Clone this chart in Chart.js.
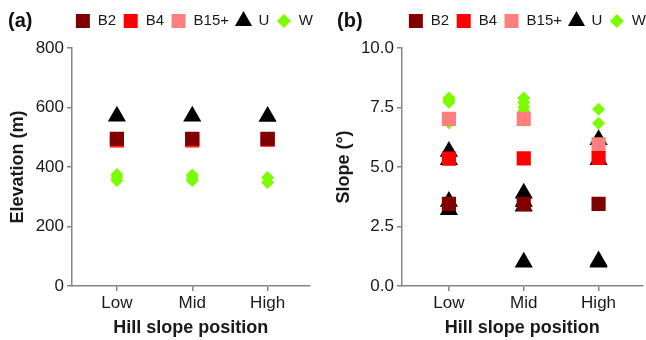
<!DOCTYPE html>
<html>
<head>
<meta charset="utf-8">
<script src="https://cdn.jsdelivr.net/npm/chart.js@4/dist/chart.umd.min.js"></script>
<style>
  html, body { margin: 0; padding: 0; background: #fff; overflow: hidden; }
  #wrap { position: relative; width: 646px; height: 340px; overflow: hidden; }
  canvas { position: absolute; top: 0; }
  #chartA { left: 0; }
  #chartB { left: 323px; }
  .panel { position: absolute; top: 9px; line-height: 20px; font: bold 20px "Liberation Sans", Arial, sans-serif; color: #111; }
</style>
</head>
<body>
<div id="wrap">
  <canvas id="chartA" width="320" height="340"></canvas>
  <canvas id="chartB" width="330" height="340"></canvas>
  <div class="panel" style="left:8px">(a)</div>
  <div class="panel" style="left:337px">(b)</div>
</div>
<script>
// Hill slope positions on the x axis
const categories = ['Low', 'Mid', 'High'];

// Series (legend order) and how they are drawn
const seriesNames = ['B2', 'B4', 'B15+', 'U', 'W'];
const seriesColors = ['#800000', '#ff0000', '#ff7f7f', '#000000', '#7cfc00'];
const seriesStyles = ['rect', 'rect', 'rect', 'triangle', 'rectRot'];
const seriesRadius = [10, 10, 10, 10.5, 6.5];

// (a) Elevation (m): one list of values per hill slope position
const elevB2 = [[495], [495], [495]];
const elevB4 = [[492], [492], [493]];
const elevB15 = [[488], [488], [491]];
const elevU = [[571], [571], [570]];
const elevW = [[375, 365, 355], [373, 363, 355], [365, 348]];
const elevTicks = [0, 200, 400, 600, 800];

// (b) Slope (degrees)
const slopeB2 = [[3.45], [3.45], [3.45]];
const slopeB4 = [[5.35], [5.36], [5.38]];
const slopeB15 = [[7.02], [7.02], [5.95]];
const slopeU = [[5.65, 5.3, 3.55, 3.2], [3.9, 3.55, 3.35, 1.0], [6.14, 5.3, 1.05, 1.0]];
const slopeW = [[7.9, 7.8, 7.72, 6.86], [7.9, 7.71, 7.52, 7.35, 6.97], [7.43, 6.84]];
const slopeTicks = [0, 2.5, 5, 7.5, 10];

const FONT = '"Liberation Sans", Arial, sans-serif';
const AXIS_GRAY = '#868686';
Chart.defaults.font.family = FONT;
Chart.defaults.color = '#1a1a1a';

// small diamond for the W legend entry (the point style would be drawn too big there)
const legendDiamond = document.createElement('canvas');
legendDiamond.width = 14;
legendDiamond.height = 14;
const dctx = legendDiamond.getContext('2d');
dctx.fillStyle = seriesColors[4];
dctx.beginPath();
dctx.moveTo(7, 0); dctx.lineTo(14, 7); dctx.lineTo(7, 14); dctx.lineTo(0, 7);
dctx.closePath();
dctx.fill();

function makeDatasets(seriesValues) {
    return seriesValues.map((values, s) => ({
        label: seriesNames[s],
        data: values.flatMap((list, c) => list.map(v => ({ x: c + 1, y: v }))),
        pointStyle: seriesStyles[s],
        pointRadius: seriesRadius[s],
        pointHoverRadius: seriesRadius[s],
        backgroundColor: seriesColors[s],
        borderColor: seriesColors[s],
        borderWidth: 0,
        showLine: false
    }));
}

function makeChart(canvasId, seriesValues, cfg) {
    return new Chart(document.getElementById(canvasId), {
        type: 'scatter',
        data: { datasets: makeDatasets(seriesValues) },
        options: {
            responsive: false,
            animation: false,
            events: [],
            layout: { padding: { top: 6.5, left: 0, right: 0, bottom: 0 } },
            plugins: {
                tooltip: { enabled: false },
                legend: {
                    position: 'top',
                    align: 'end',
                    fullSize: true,
                    labels: {
                        usePointStyle: true,
                        boxWidth: 15,
                        boxHeight: 14,
                        padding: 7,
                        color: '#1a1a1a',
                        font: { size: 15 },
                        generateLabels: function(chart) {
                            const items = Chart.defaults.plugins.legend.labels.generateLabels(chart);
                            items[4].pointStyle = legendDiamond;
                            return items;
                        }
                    }
                }
            },
            scales: {
                x: {
                    type: 'linear',
                    position: 'bottom',
                    min: cfg.xMin,
                    max: cfg.xMax,
                    afterBuildTicks: axis => { axis.ticks = categories.map((c, i) => ({ value: i + 1 })); },
                    ticks: {
                        callback: v => categories[Math.round(v) - 1],
                        font: { size: 17 },
                        color: '#1a1a1a',
                        padding: 2,
                        maxRotation: 0
                    },
                    grid: { display: true, drawOnChartArea: false, drawTicks: true, tickLength: 5, color: AXIS_GRAY, lineWidth: 1.5 },
                    border: { display: true, color: AXIS_GRAY, width: 1.5 },
                    title: { display: true, text: 'Hill slope position', font: { size: 18, weight: 'bold' }, color: '#1a1a1a', padding: { top: 0, bottom: 1.5 } },
                    afterFit: axis => { axis.height = 54; }
                },
                y: {
                    type: 'linear',
                    position: 'left',
                    min: cfg.ticks[0],
                    max: cfg.ticks[cfg.ticks.length - 1],
                    afterBuildTicks: axis => { axis.ticks = cfg.ticks.map(v => ({ value: v })); },
                    ticks: {
                        callback: cfg.tickFormat,
                        font: { size: 17 },
                        color: '#1a1a1a',
                        padding: 3
                    },
                    grid: { display: true, drawOnChartArea: false, drawTicks: true, tickLength: 5, color: AXIS_GRAY, lineWidth: 1.5 },
                    border: { display: true, color: AXIS_GRAY, width: 1.5 },
                    title: { display: true, text: cfg.yTitle, font: { size: 18, weight: 'bold' }, color: '#1a1a1a', padding: { top: cfg.titlePad, bottom: 0 } },
                    afterFit: axis => { axis.width = cfg.yWidth; }
                },
                // empty spacer axes, they only push the plot area into place
                xTop: {
                    type: 'linear', axis: 'x', position: 'top', display: true,
                    grid: { display: false }, border: { display: false }, ticks: { display: false },
                    afterFit: axis => { axis.height = 9.5; }
                },
                yRight: {
                    type: 'linear', axis: 'y', position: 'right', display: true,
                    grid: { display: false }, border: { display: false }, ticks: { display: false },
                    afterFit: axis => { axis.width = 10; }
                }
            }
        }
    });
}

makeChart('chartA', [elevB2, elevB4, elevB15, elevU, elevW], {
    xMin: 0.404, xMax: 3.556,
    ticks: elevTicks,
    tickFormat: v => String(v),
    yTitle: 'Elevation (m)',
    yWidth: 72,
    titlePad: 7
});

makeChart('chartB', [slopeB2, slopeB4, slopeB15, slopeU, slopeW], {
    xMin: 0.373, xMax: 3.587,
    ticks: slopeTicks,
    tickFormat: v => v.toFixed(1),
    yTitle: 'Slope (°)',
    yWidth: 79,
    titlePad: 10
});
</script>
</body>
</html>
